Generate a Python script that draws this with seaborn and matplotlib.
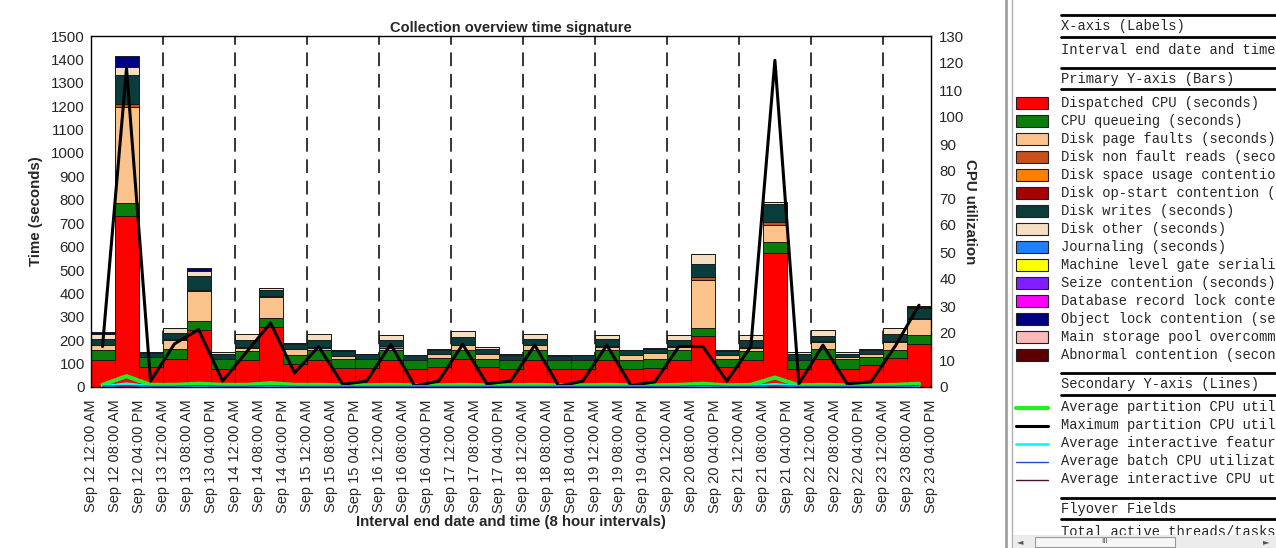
import numpy as np
import matplotlib
matplotlib.use("Agg")
import matplotlib.pyplot as plt
import seaborn as sns
from matplotlib.patches import Rectangle

# ---- data -------------------------------------------------------------
days = ["12", "13", "14", "15", "16", "17", "18", "19", "20", "21", "22", "23"]
hours = ["12:00 AM", "08:00 AM", "04:00 PM"]
tick_labels = [f"Sep {d} {h}" for d in days for h in hours]

dispatched_cpu = [114, 731, 85, 121, 242, 78, 114, 256, 97, 117, 80, 80,
                  117, 78, 85, 121, 85, 78, 117, 78, 76, 117, 78, 83,
                  117, 217, 85, 114, 574, 78, 121, 78, 92, 125, 182]
cpu_queueing = [43, 57, 43, 43, 39, 43, 40, 39, 38, 43, 41, 41,
                40, 39, 40, 39, 36, 39, 40, 36, 38, 40, 39, 35,
                43, 37, 36, 40, 46, 39, 43, 40, 38, 35, 39]
disk_page_faults = [21, 409, 0, 38, 129, 0, 14, 90, 29, 8, 10, 0,
                    11, 0, 15, 18, 21, 0, 21, 0, 0, 14, 18, 27,
                    11, 205, 14, 13, 71, 0, 28, 10, 12, 32, 71]
disk_non_fault = [3, 13, 0, 3, 5, 0, 4, 5, 0, 3, 0, 0,
                  8, 0, 0, 3, 0, 0, 3, 0, 0, 6, 0, 0,
                  3, 11, 0, 4, 14, 0, 3, 0, 0, 3, 4]
disk_writes = [26, 122, 17, 26, 58, 22, 28, 23, 21, 29, 23, 19,
               24, 18, 20, 33, 22, 21, 25, 17, 21, 27, 22, 19,
               25, 54, 17, 28, 79, 25, 24, 15, 18, 30, 40]
disk_other = [21, 36, 5, 22, 23, 5, 25, 12, 5, 25, 6, 2,
              24, 3, 4, 24, 7, 4, 19, 4, 3, 20, 3, 4,
              22, 46, 5, 22, 5, 8, 26, 5, 4, 27, 0]
object_lock = [7, 46, 0, 0, 14, 0, 0, 0, 0, 0, 0, 0,
               0, 0, 0, 0, 0, 0, 0, 0, 0, 0, 0, 0,
               0, 0, 0, 0, 0, 0, 0, 0, 0, 0, 9]

max_cpu = [15, 118, 2.2, 16, 21.3, 2.2, 13, 23.7, 5.2, 15, 1, 2.2,
           15.8, 0.4, 2.2, 15.8, 1.2, 2.2, 15.5, 0.3, 2.2, 15.5, 0.6, 1.9,
           15, 15, 2.2, 15, 121, 1.2, 15.5, 1.2, 1.9, 15, 30.3]
avg_cpu = [0.8, 4, 0.8, 0.8, 1.2, 0.8, 0.8, 1.4, 0.8, 0.8, 0.6, 0.6,
           0.8, 0.6, 0.6, 0.8, 0.6, 0.6, 0.8, 0.6, 0.6, 0.8, 0.6, 0.6,
           0.8, 1.2, 0.6, 0.8, 3.5, 0.6, 0.8, 0.6, 0.6, 0.8, 1.2]
avg_interactive_feat = [0.2, 1.2, 0.2, 0.2, 0.2, 0.2, 0.2, 0.2, 0.2, 0.2, 0.2, 0.2,
                        0.2, 0.2, 0.2, 0.2, 0.2, 0.2, 0.2, 0.2, 0.2, 0.2, 0.2, 0.2,
                        0.2, 0.2, 0.2, 0.2, 1.0, 0.2, 0.2, 0.2, 0.2, 0.2, 0.2]
avg_batch_cpu = [0.3, 0.5, 0.3, 0.3, 0.5, 0.3, 0.3, 0.5, 0.3, 0.3, 0.3, 0.3,
                 0.3, 0.3, 0.3, 0.3, 0.3, 0.3, 0.3, 0.3, 0.3, 0.3, 0.3, 0.3,
                 0.3, 0.5, 0.3, 0.3, 0.5, 0.3, 0.3, 0.3, 0.3, 0.3, 0.5]
avg_interactive_cpu = [0.1] * 35

bar_names = ["Dispatched CPU (seconds)", "CPU queueing (seconds)",
             "Disk page faults (seconds)", "Disk non fault reads (seconds)",
             "Disk space usage contention (seconds)", "Disk op-start contention (seconds)",
             "Disk writes (seconds)", "Disk other (seconds)", "Journaling (seconds)",
             "Machine level gate serialization (seconds)", "Seize contention (seconds)",
             "Database record lock contention (seconds)", "Object lock contention (seconds)",
             "Main storage pool overcommitment (seconds)", "Abnormal contention (seconds)"]
bar_colors = ["#ff0000", "#0a7d0a", "#fbc38c", "#c8501a", "#ff8000", "#a80000",
              "#0b3c3c", "#f4dfc2", "#1f7fff", "#ffff00", "#7f1fff", "#ff00ff",
              "#000080", "#f8b9b9", "#5a0000"]
line_names = ["Average partition CPU utilization", "Maximum partition CPU utilization",
              "Average interactive feature utilization", "Average batch CPU utilization",
              "Average interactive CPU utilization"]
line_colors = ["#22ee22", "#000000", "#00ffff", "#1f4fd0", "#4a1030"]
line_widths = [3, 2.2, 2, 1, 1]

# ---- figure -----------------------------------------------------------
sns.set_style("white")
plt.rcParams["font.family"] = ["Liberation Sans", "DejaVu Sans"]
W, H = 1276, 548
fig = plt.figure(figsize=(W / 100, H / 100), dpi=100)
ax = fig.add_axes([90.5 / W, 1 - 387 / H, (931 - 90.5) / W, (387 - 36) / H])

n = len(dispatched_cpu)
x = np.arange(n) + 0.5

# day separators
for d in range(3, n, 3):
    ax.axvline(d, color="black", lw=1.1, ls=(0, (9, 5)), zorder=0)

stack = [(dispatched_cpu, bar_colors[0]), (cpu_queueing, bar_colors[1]),
         (disk_page_faults, bar_colors[2]), (disk_non_fault, bar_colors[3]),
         (disk_writes, bar_colors[6]), (disk_other, bar_colors[7]),
         (object_lock, bar_colors[12])]
bottom = np.zeros(n)
for vals, col in stack:
    vals = np.array(vals, dtype=float)
    ax.bar(x, vals, width=1.0, bottom=bottom, color=col, edgecolor="#1a1a1a",
           linewidth=0.7, zorder=2)
    bottom += vals

ax.set_xlim(0, n)
ax.set_ylim(0, 1500)
ax.set_yticks(np.arange(0, 1501, 100))
ax.set_xticks(np.arange(n + 1))
ax.set_xticklabels(tick_labels, rotation=90, fontsize=10.5)
ax.tick_params(axis="y", length=0, pad=4, labelsize=10.8)
ax.tick_params(axis="x", length=0, pad=9)
ax.set_ylabel("Time (seconds)", fontsize=10.8, fontweight="bold", labelpad=6)
ax.set_xlabel("Interval end date and time (8 hour intervals)", fontsize=10.8,
              fontweight="bold", labelpad=1)
ax.set_title("Collection overview time signature", fontsize=10.5,
             fontweight="bold", pad=3)
for s in ax.spines.values():
    s.set_color("black")
    s.set_linewidth(1)

ax2 = ax.twinx()
series = [avg_cpu, max_cpu, avg_interactive_feat, avg_batch_cpu, avg_interactive_cpu]
for vals, col, lw in zip(series, line_colors, line_widths):
    sns.lineplot(x=x, y=vals, ax=ax2, color=col, lw=lw, zorder=3)
ax2.set_ylim(0, 130)
ax2.set_yticks(np.arange(0, 131, 10))
ax2.tick_params(axis="y", length=0, pad=6, labelsize=10.8)
ax2.set_ylabel("CPU utilization", fontsize=10.8, fontweight="bold",
               rotation=270, labelpad=9)
for s in ax2.spines.values():
    s.set_visible(False)

# ---- legend panel -----------------------------------------------------
lg = fig.add_axes([1003 / W, 0, (W - 1003) / W, 1])
lg.set_xlim(1003, W)
lg.set_ylim(H, 0)
lg.axis("off")
lg.add_patch(Rectangle((1003, 0), W - 1003, H, color="white", zorder=0))
lg.plot([1006, 1006], [0, H], color="#a0a0a0", lw=2)
lg.plot([1012, 1012], [0, H], color="#b0b0b0", lw=1)
mono = dict(family=["Liberation Mono", "DejaVu Sans Mono"], fontsize=9.9,
            va="center", ha="left", clip_on=True)
tx = 1061


def rule(y):
    lg.plot([tx, W], [y, y], color="black", lw=2, clip_on=True)


rule(15)
lg.text(tx, 26, "X-axis (Labels)", **mono)
rule(37)
lg.text(tx, 50, "Interval end date and time", **mono)
rule(68)
lg.text(tx, 79, "Primary Y-axis (Bars)", **mono)
rule(89)
for k, (name, col) in enumerate(zip(bar_names, bar_colors)):
    y = 102.5 + 18 * k
    lg.add_patch(Rectangle((1016, y - 6), 32, 12, facecolor=col,
                           edgecolor="#202020", lw=0.8))
    lg.text(tx, y, name, **mono)
rule(373)
lg.text(tx, 384, "Secondary Y-axis (Lines)", **mono)
rule(395)
for k, (name, col, lw) in enumerate(zip(line_names, line_colors, line_widths)):
    y = 407.5 + 18 * k
    lg.plot([1016, 1048], [y, y], color=col, lw=lw)
    lg.text(tx, y, name, **mono)
rule(498)
lg.text(tx, 509, "Flyover Fields", **mono)
rule(519)
lg.text(tx, 532, "Total active threads/tasks", **mono)

# scrollbar
lg.add_patch(Rectangle((1013, 535), W - 1013, 13, facecolor="#ececec",
                       edgecolor="none", zorder=5))
lg.add_patch(Rectangle((1035, 536.5), 140, 10, facecolor="#f6f6f6",
                       edgecolor="#9a9a9a", lw=0.8, zorder=6))
lg.text(1105, 541.5, "III", fontsize=6, ha="center", va="center",
        color="#555555", zorder=7)
lg.text(1020, 541.5, "\u25c4", fontsize=6, ha="center", va="center",
        color="#555555", zorder=7, family="DejaVu Sans")
lg.text(1266, 541.5, "\u25ba", fontsize=6, ha="center", va="center",
        color="#555555", zorder=7, family="DejaVu Sans")

fig.savefig("out.png", dpi=100)
